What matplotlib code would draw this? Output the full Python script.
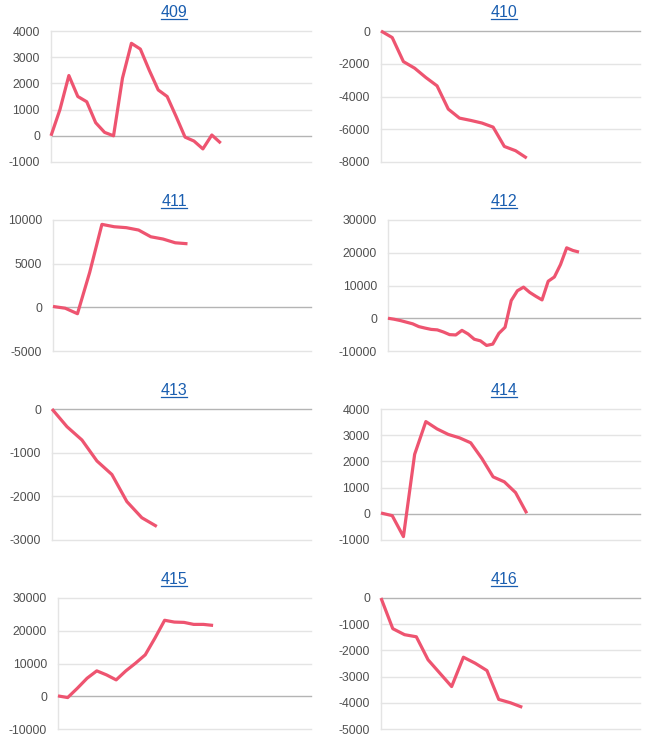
import numpy as np
import matplotlib
matplotlib.use("Agg")
import matplotlib.pyplot as plt
from matplotlib.lines import Line2D

# =============================
# DATA
# =============================
titles = ["409", "410", "411", "412", "413", "414", "415", "416"]

s409 = [0, 1000, 2300, 1500, 1300, 500, 130, 0, 2200, 3530, 3310, 2500,
        1750, 1500, 740, -50, -200, -500, 30, -280]
s410 = [0, -400, -1870, -2270, -2840, -3350, -4770, -5320, -5460, -5620,
        -5870, -7050, -7310, -7760]
s411 = [100, -100, -730, 4000, 9500, 9230, 9120, 8850, 8080, 7820, 7390, 7280]
s412 = [0, -300, -700, -1200, -1700, -2550, -3000, -3400, -3550, -4200,
        -5000, -5100, -3700, -4800, -6400, -6900, -8300, -7900, -4600, -2750,
        5400, 8400, 9500, 7900, 6700, 5600, 11300, 12600, 16400, 21500,
        20700, 20200]
s413 = [0, -405, -710, -1190, -1500, -2120, -2490, -2690]
s414 = [30, -70, -870, 2270, 3520, 3240, 3030, 2900, 2710, 2110, 1410, 1220,
        810, 20]
s415 = [100, -400, 2450, 5500, 7750, 6530, 5000, 7750, 10100, 12650, 17750,
        23200, 22650, 22550, 21940, 21940, 21630]
s416 = [0, -1170, -1400, -1480, -2360, -2870, -3380, -2260, -2490, -2770,
        -3870, -4000, -4170]

series = [s409, s410, s411, s412, s413, s414, s415, s416]

yticks = [
    [-1000, 0, 1000, 2000, 3000, 4000],
    [-8000, -6000, -4000, -2000, 0],
    [-5000, 0, 5000, 10000],
    [-10000, 0, 10000, 20000, 30000],
    [-3000, -2000, -1000, 0],
    [-1000, 0, 1000, 2000, 3000, 4000],
    [-10000, 0, 10000, 20000, 30000],
    [-5000, -4000, -3000, -2000, -1000, 0],
]

# =============================
# LAYOUT (pixels, 655 x 739 canvas)
# =============================
W, H = 655, 739
# left, right, top, bottom of each plot area, x extent in point slots
boxes = [
    (51, 311, 31, 162, 29.1),
    (381, 640, 31, 162, 23.1),
    (53, 311, 220, 351, 21.1),
    (388, 640, 220, 351, 40.9),
    (52, 311, 409, 540, 17.3),
    (381, 640, 409, 540, 23.1),
    (58, 311, 598, 729, 26.1),
    (381, 640, 598, 729, 22.0),
]
title_x = [174, 504]

LINE_COLOR  = '#ee5470'
GRID_COLOR  = '#e4e4e4'
ZERO_COLOR  = '#b4b4b4'
LABEL_COLOR = '#505050'
TITLE_COLOR = '#1a5eb0'

plt.rcParams['font.family'] = ['Liberation Sans', 'DejaVu Sans']

fig = plt.figure(figsize=(W / 100, H / 100), dpi=100, facecolor='white')

title_texts = []
for i, (vals, ticks, box) in enumerate(zip(series, yticks, boxes)):
    left, right, top, bottom, xmax = box
    ax = fig.add_axes([left / W, 1 - bottom / H,
                       (right - left) / W, (bottom - top) / H])
    ax.set_xlim(0, xmax)
    ax.set_ylim(ticks[0], ticks[-1])

    for t in ticks:
        ax.axhline(t, color=ZERO_COLOR if t == 0 else GRID_COLOR,
                   linewidth=1.0, clip_on=False, zorder=1)
    ax.axvline(0, color=GRID_COLOR, linewidth=1.0, clip_on=False, zorder=1)

    ax.plot(np.arange(len(vals)), vals, color=LINE_COLOR, linewidth=2.3,
            solid_joinstyle='round', solid_capstyle='butt',
            clip_on=False, zorder=3)

    ax.set_yticks(ticks)
    ax.set_yticklabels([str(t) for t in ticks])
    ax.set_xticks([])
    ax.tick_params(axis='y', length=0, pad=8, labelsize=8.8,
                   labelcolor=LABEL_COLOR)
    for sp in ax.spines.values():
        sp.set_visible(False)
    ax.patch.set_alpha(0)

    tx = title_x[i % 2]
    t = fig.text(tx / W, 1 - (top - 14) / H, titles[i], ha='center',
                 va='baseline', fontsize=11.5, color=TITLE_COLOR)
    title_texts.append(t)

# underline the titles like links
fig.canvas.draw()
renderer = fig.canvas.get_renderer()
for t in title_texts:
    bb = t.get_window_extent(renderer)
    x0, x1 = bb.x0 / W, bb.x1 / W
    ybase = t.get_position()[1] - 2.0 / H
    fig.add_artist(Line2D([x0, x1], [ybase, ybase], color=TITLE_COLOR,
                          linewidth=0.9, transform=fig.transFigure))

fig.savefig("out.png", dpi=100, facecolor='white')
